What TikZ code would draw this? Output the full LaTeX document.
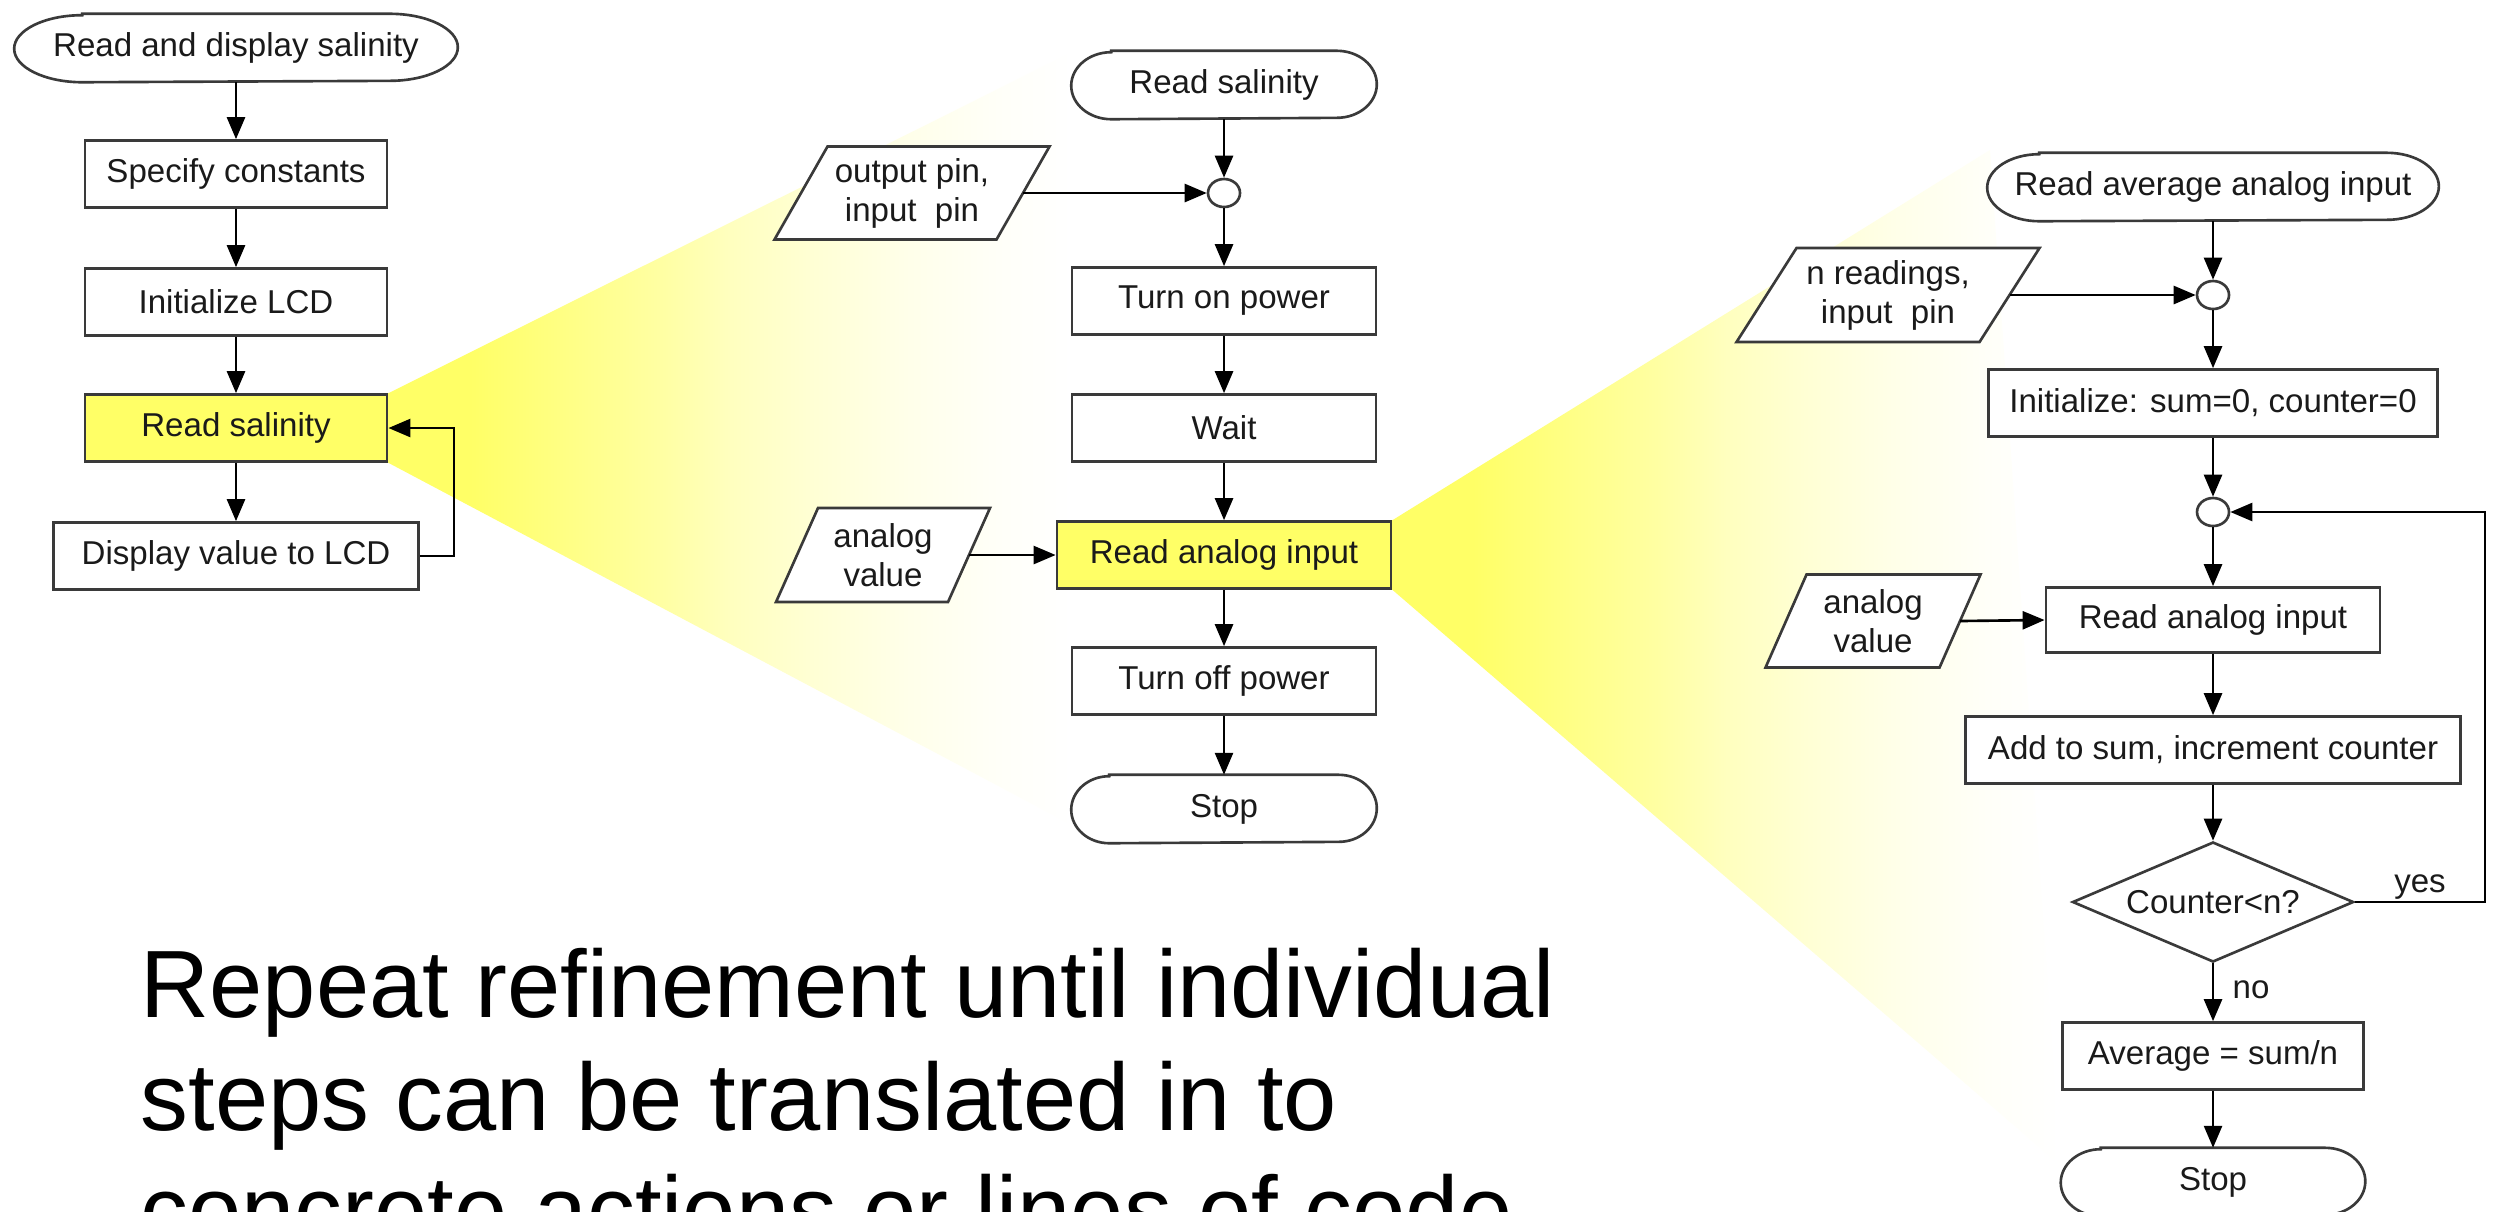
\documentclass[tikz,border=0pt]{standalone}
\usepackage{fontspec}
\setmainfont{Liberation Sans}
\usetikzlibrary{arrows.meta,shapes.geometric,calc}

\definecolor{beamY}{HTML}{FFFF66}
\definecolor{hiY}{HTML}{FFFF66}
\definecolor{edge}{HTML}{3A3A3A}
\definecolor{ink}{HTML}{1A1A1A}

% spotlight fading from yellow to white, left to right
\pgfdeclarehorizontalshading{beamfade}{100bp}{%
  color(0bp)=(beamY); color(25bp)=(beamY); color(31bp)=(beamY);
  color(45bp)=(beamY!60!white); color(50bp)=(beamY!42!white);
  color(56bp)=(beamY!28!white); color(63bp)=(beamY!14!white);
  color(70bp)=(beamY!4!white); color(75bp)=(white); color(100bp)=(white)}

\pgfdeclarelayer{back}
\pgfsetlayers{back,main}

% terminal outline with elliptic ends: node name, end radius
\newcommand{\termshape}[2]{%
  \draw[edgeline, fill=white] ([xshift=#2]#1.north west) -- ([xshift=-#2]#1.north east)
    arc[start angle=90, end angle=-90, x radius=#2, y radius=0.335cm]
    -- ([xshift=#2]#1.south west)
    arc[start angle=270, end angle=90, x radius=#2, y radius=0.335cm] -- cycle;}

% input/output parallelogram: name, cx, cy, width, height, slant, text
\newcommand{\ioshape}[7]{%
  \draw[edgeline, fill=white]
    (#2-#4/2-#6/2, #3-#5/2) -- (#2+#4/2-#6/2, #3-#5/2) --
    (#2+#4/2+#6/2, #3+#5/2) -- (#2-#4/2+#6/2, #3+#5/2) -- cycle;
  \node[flow] (#1) at (#2,#3) {#7};
  \coordinate (#1-out) at (#2+#4/2,#3);}

\begin{document}
\begin{tikzpicture}[x=0.01cm, y=0.01cm,
  edgeline/.style={draw=edge, line width=0.75pt},
  flow/.style={font=\fontsize{9.4pt}{11.1pt}\selectfont, text=ink, inner sep=0pt, align=center},
  proc/.style={flow, rectangle, edgeline, fill=white, minimum height=0.67cm},
  hiproc/.style={proc, fill=hiY},
  term/.style={flow, minimum height=0.67cm},
  junct/.style={ellipse, edgeline, fill=white, minimum width=0.32cm, minimum height=0.28cm, inner sep=0pt},
  decision/.style={flow, diamond, aspect=2.34, edgeline, fill=white, minimum width=2.81cm, minimum height=1.2cm},
  flowarrow/.style={draw=black, line width=0.75pt, -{Triangle[length=0.22cm, width=0.18cm]}},
  caption/.style={anchor=base west, inner sep=0pt, text=black, font=\fontsize{27.2pt}{32pt}\selectfont}]

\useasboundingbox (0,0) rectangle (2495,-1211);
\clip (0,0) rectangle (2495,-1211);

% ---------- top-level flowchart ----------
\node[term, minimum width=4.42cm] (L0) at (236,-48) {Read and display salinity};
\node[proc, minimum width=3.02cm] (L1) at (236,-174) {Specify constants};
\node[proc, minimum width=3.02cm] (L2) at (236,-302) {Initialize LCD};
\node[hiproc, minimum width=3.02cm] (L3) at (236,-428) {Read salinity};
\node[proc, minimum width=3.65cm] (L4) at (236,-556) {Display value to LCD};

\draw[flowarrow] (L0.south) -- (L1.north);
\draw[flowarrow] (L1.south) -- (L2.north);
\draw[flowarrow] (L2.south) -- (L3.north);
\draw[flowarrow] (L3.south) -- (L4.north);
\draw[flowarrow] (L4.east) -- ++(34,0) |- (L3.east);

% ---------- Read salinity ----------
\node[term, minimum width=3.04cm] (M0) at (1224,-85) {Read salinity};
\node[junct] (M1) at (1224,-193) {};
\node[proc, minimum width=3.04cm] (M2) at (1224,-301) {Turn on power};
\node[proc, minimum width=3.04cm] (M3) at (1224,-428) {Wait};
\node[hiproc, minimum width=3.34cm] (M4) at (1224,-555) {Read analog input};
\node[proc, minimum width=3.04cm] (M5) at (1224,-681) {Turn off power};
\node[term, minimum width=3.04cm] (M6) at (1224,-809) {Stop};

\ioshape{MP1}{912}{-193}{222}{93}{53}{output pin,\\input~ pin}
\ioshape{MP2}{883}{-555}{172}{94}{42}{analog\\value}

\draw[flowarrow] (M0.south) -- (M1.north);
\draw[flowarrow] (MP1-out) -- (M1.west);
\draw[flowarrow] (M1.south) -- (M2.north);
\draw[flowarrow] (M2.south) -- (M3.north);
\draw[flowarrow] (M3.south) -- (M4.north);
\draw[flowarrow] (MP2-out) -- (M4.west);
\draw[flowarrow] (M4.south) -- (M5.north);
\draw[flowarrow] (M5.south) -- (M6.north);

% ---------- Read average analog input ----------
\node[term, minimum width=4.50cm] (R0) at (2213,-187) {Read average analog input};
\node[junct] (R1) at (2213,-295) {};
\node[proc, minimum width=4.49cm] (R2) at (2213,-403) {Initialize: sum=0, counter=0};
\node[junct] (R3) at (2213,-512) {};
\node[proc, minimum width=3.34cm, minimum height=0.65cm] (R4) at (2213,-620) {Read analog input};
\node[proc, minimum width=4.95cm] (R5) at (2213,-750) {Add to sum, increment counter};
\node[decision] (R6) at (2213,-902) {Counter<n?};
\node[proc, minimum width=3.01cm] (R7) at (2213,-1056) {Average = sum/n};
\node[term, minimum width=3.03cm] (R8) at (2213,-1182) {Stop};

\ioshape{RP1}{1888}{-295}{243}{94}{60}{n readings,\\input~ pin}
\ioshape{RP2}{1873}{-621}{174}{93}{41}{analog\\value}

\draw[flowarrow] (R0.south) -- (R1.north);
\draw[flowarrow] (RP1-out) -- (R1.west);
\draw[flowarrow] (R1.south) -- (R2.north);
\draw[flowarrow] (R2.south) -- (R3.north);
\draw[flowarrow] (R3.south) -- (R4.north);
\draw[flowarrow] (RP2-out) -- (R4.west);
\draw[flowarrow] (R4.south) -- (R5.north);
\draw[flowarrow] (R5.south) -- (R6.north);
\draw[flowarrow] (R6.south) -- (R7.north);
\draw[flowarrow] (R7.south) -- (R8.north);
\draw[flowarrow] (R6.east) -- ++(130,0) |- (R3.east);
\node[flow, anchor=base] (yes) at (2420,-892) {yes};
\node[flow, anchor=base] (no) at (2251,-998) {no};

% ---------- caption ----------
\node[caption] (cap1) at (140,-1017) {Repeat refinement until individual};
\node[caption] (cap2) at (140,-1130) {steps can be translated in to};
\node[caption] (cap3) at (140,-1243) {concrete actions or lines of code};

% ---------- page, spotlights and terminal outlines behind everything ----------
\begin{pgfonlayer}{back}
  \fill[white] (0,0) rectangle (2495,-1211);
  \shade[shading=beamfade] (L3.north east) -- (1072,-52) -- (1072,-825) -- (L3.south east) -- cycle;
  \shade[shading=beamfade] (M4.north east) -- (1990,-150) -- (2060,-1165) -- (M4.south east) -- cycle;
  \termshape{L0}{0.68cm}
  \termshape{M0}{0.40cm}
  \termshape{M6}{0.38cm}
  \termshape{R0}{0.52cm}
  \termshape{R8}{0.40cm}
\end{pgfonlayer}
\end{tikzpicture}
\end{document}
